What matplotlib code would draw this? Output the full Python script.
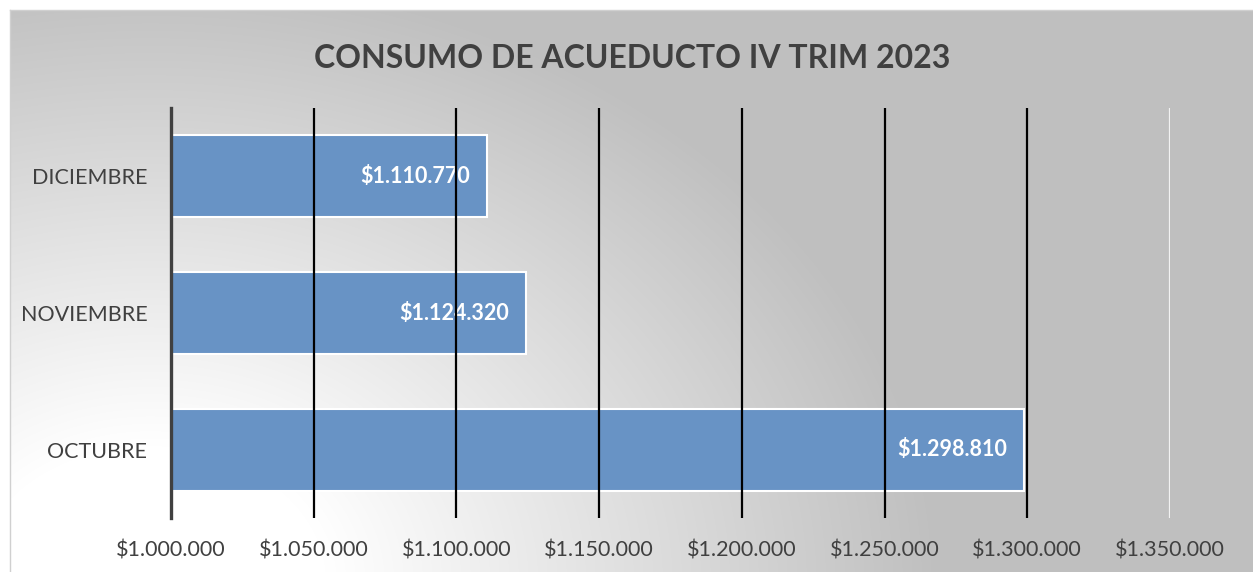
import numpy as np
import matplotlib

matplotlib.use("Agg")
import matplotlib.pyplot as plt
from matplotlib.ticker import FuncFormatter

months = ["OCTUBRE", "NOVIEMBRE", "DICIEMBRE"]
consumo = [1298810, 1124320, 1110770]
x_ticks = [1000000, 1050000, 1100000, 1150000, 1200000, 1250000, 1300000, 1350000]
title = "CONSUMO DE ACUEDUCTO IV TRIM 2023"

BAR_COLOR = "#6893c5"
TEXT_COLOR = "#404040"
FONT = ["Lato", "DejaVu Sans"]


def peso(value, _pos=None):
    return "$" + f"{int(value):,}".replace(",", ".")


fig = plt.figure(figsize=(12.53, 5.72), dpi=100)
fig.patch.set_facecolor("white")

# gradient background of the chart area (light corner bottom-left)
bg = fig.add_axes([10 / 1253, 0, 1 - 10 / 1253, 1 - 10 / 572])
h, w = 562, 1243
yy, xx = np.mgrid[0:h, 0:w]
r = np.hypot((xx - 140) * 0.85, (yy - (h + 10)) * 1.1)
shade = 1.0 - 0.25 * np.clip((r - 150) / 520, 0, 1)
bg.imshow(np.dstack([shade] * 3), aspect="auto", extent=(0, 1, 0, 1), interpolation="bilinear")
bg.set_xlim(0, 1)
bg.set_ylim(0, 1)
bg.set_xticks([])
bg.set_yticks([])
for s in bg.spines.values():
    s.set_color("#d0d0d0")
    s.set_linewidth(1.0)
bg.spines["right"].set_visible(False)
bg.spines["bottom"].set_visible(False)
bg.set_zorder(0)

ax = fig.add_axes([171 / 1253, 1 - 518 / 572, (1170 - 171) / 1253, (518 - 108) / 572])
ax.set_facecolor("none")
ax.set_zorder(1)

y = np.arange(len(months))
ax.barh(y, consumo, height=0.6, color=BAR_COLOR, edgecolor="white", linewidth=1.5, zorder=1)
for yi, val in zip(y, consumo):
    ax.annotate(peso(val), xy=(val, yi), xytext=(-12, 0), textcoords="offset points",
                ha="right", va="center", color="white", fontsize=15.5, fontweight="bold",
                family=FONT, zorder=2)

ax.set_xlim(x_ticks[0], x_ticks[-1])
ax.set_ylim(-0.5, len(months) - 0.5)
ax.set_xticks(x_ticks)
ax.xaxis.set_major_formatter(FuncFormatter(peso))
ax.set_yticks(y)
ax.set_yticklabels(months)
ax.tick_params(axis="both", length=0, colors=TEXT_COLOR, labelsize=15.5)
ax.tick_params(axis="x", pad=16)
ax.tick_params(axis="y", pad=17)
for lab in ax.get_xticklabels() + ax.get_yticklabels():
    lab.set_family(FONT)

ax.set_axisbelow(False)
ax.grid(axis="x", color="black", linewidth=1.6)
ax.get_xgridlines()[-1].set_color("#f2f2f2")
ax.get_xgridlines()[0].set_visible(False)

for side in ["top", "right", "bottom"]:
    ax.spines[side].set_visible(False)
ax.spines["left"].set_color(TEXT_COLOR)
ax.spines["left"].set_linewidth(2.4)
ax.spines["left"].set_zorder(3)

fig.text(632 / 1253, 1 - 59 / 572, title, ha="center", va="center",
         fontsize=23, fontweight="bold", color=TEXT_COLOR, family=FONT)

fig.savefig("out.png", dpi=100, facecolor=fig.get_facecolor())
